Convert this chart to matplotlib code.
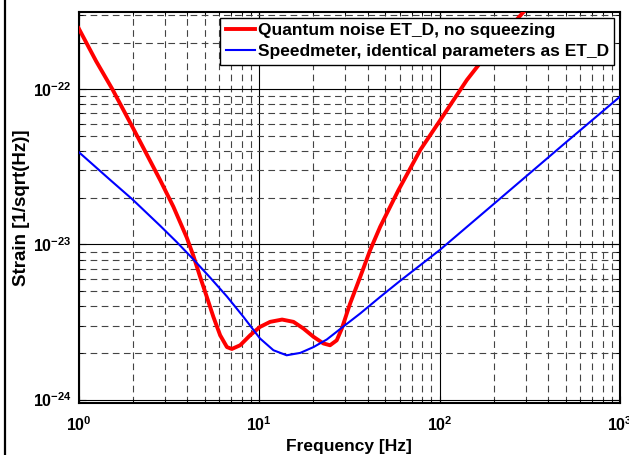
import math
import matplotlib
matplotlib.use("Agg")
import matplotlib.pyplot as plt
from matplotlib.ticker import FuncFormatter, LogLocator, NullFormatter
from matplotlib.lines import Line2D

plt.rcParams['font.family'] = ['Liberation Sans', 'DejaVu Sans']
plt.rcParams['font.weight'] = 'bold'
plt.rcParams['mathtext.fontset'] = 'custom'
plt.rcParams['mathtext.rm'] = 'Liberation Sans:bold'
plt.rcParams['mathtext.bf'] = 'Liberation Sans:bold'
plt.rcParams['mathtext.it'] = 'Liberation Sans:bold'

# Quantum noise ET_D, no squeezing
freq_et = [1.0, 1.25, 1.54, 2.0, 2.36, 2.83, 3.35, 3.97, 4.33, 4.71, 5.13, 5.58,
           6.08, 6.63, 7.06, 7.85, 8.92, 10.1, 11.5, 13.4, 15.5, 17.6, 20.0,
           22.7, 24.7, 26.9, 28.7, 31.9, 36.3, 41.2, 46.8, 59.1, 78.0, 100.7,
           141.5, 167.6, 235.5, 291.0, 350.0]
strain_et = [2.48e-22, 1.52e-22, 1.0e-22, 5.64e-23, 3.9e-23, 2.6e-23, 1.75e-23,
             1.11e-23, 8.4e-24, 6.18e-24, 4.59e-24, 3.41e-24, 2.6e-24, 2.18e-24,
             2.12e-24, 2.24e-24, 2.6e-24, 2.94e-24, 3.17e-24, 3.28e-24, 3.17e-24,
             2.87e-24, 2.54e-24, 2.3e-24, 2.24e-24, 2.41e-24, 2.87e-24, 4.16e-24,
             6.18e-24, 9.2e-24, 1.3e-23, 2.24e-23, 4.06e-23, 6.33e-23, 1.15e-22,
             1.48e-22, 2.39e-22, 3.15e-22, 3.98e-22]

# Speedmeter, identical parameters as ET_D
freq_sm = [1.0, 1.5, 1.99, 2.83, 3.5, 4.33, 5.35, 6.63, 8.19, 10.1,
           12.0, 14.2, 16.9, 20.0, 23.7, 29.3, 36.3, 46.8, 60.4, 100.0, 200.0,
           500.0, 1000.0]
strain_sm = [3.95e-23, 2.6e-23, 1.95e-23, 1.32e-23, 1.035e-23, 8.0e-24, 6.12e-24,
             4.62e-24, 3.41e-24, 2.48e-24, 2.08e-24, 1.93e-24,
             2.0e-24, 2.18e-24, 2.44e-24, 2.96e-24, 3.59e-24, 4.59e-24, 5.83e-24,
             9.2e-24, 1.83e-23, 4.55e-23, 9.0e-23]

labels = ['Quantum noise ET_D, no squeezing',
          'Speedmeter, identical parameters as ET_D']

fig = plt.figure(figsize=(6.29, 4.55), dpi=100)
ax = fig.add_axes([0.125, 0.115, 0.861, 0.859])
ax.set_xscale('log')
ax.set_yscale('log')
ax.set_xlim(1, 1000)
ax.set_ylim(10**-24.02, 10**-21.5)

ax.plot(freq_et, strain_et, color='#ff0000', lw=2.8, label=labels[0], zorder=3)
ax.plot(freq_sm, strain_sm, color='#0000ff', lw=1.5, label=labels[1], zorder=3)

ax.xaxis.set_major_locator(LogLocator(base=10, numticks=10))
ax.yaxis.set_major_locator(LogLocator(base=10, numticks=10))
ax.xaxis.set_minor_locator(LogLocator(base=10, subs=range(2, 10), numticks=20))
ax.yaxis.set_minor_locator(LogLocator(base=10, subs=range(2, 10), numticks=20))
ax.xaxis.set_minor_formatter(NullFormatter())
ax.yaxis.set_minor_formatter(NullFormatter())


def fmt(v, pos):
    e = int(round(math.log10(v)))
    return r'$\mathbf{10^{%d}}$' % e


ax.xaxis.set_major_formatter(FuncFormatter(fmt))
ax.yaxis.set_major_formatter(FuncFormatter(fmt))

ax.grid(True, which='major', color='black', lw=0.8, ls='-')
ax.grid(True, which='minor', color='#444444', lw=0.8, ls=(0, (6, 4)))

ax.tick_params(which='both', direction='in', top=True, right=True, labelsize=11.5)
ax.tick_params(which='major', length=5, width=0.8)
ax.tick_params(which='minor', length=3, width=0.6)
ax.tick_params(axis='x', which='major', pad=9)
ax.tick_params(axis='y', which='major', pad=5)
for s in ax.spines.values():
    s.set_linewidth(1.5)

ax.set_xlabel('Frequency [Hz]', fontsize=12.5, fontweight='bold')
ax.set_ylabel('Strain [1/sqrt(Hz)]', fontsize=13.5, fontweight='bold')
ax.xaxis.set_label_coords(0.5, -0.092)
ax.yaxis.set_label_coords(-0.09, 0.5)

leg = ax.legend(loc='upper right', fontsize=12.5, fancybox=False, framealpha=1,
                edgecolor='black', borderpad=0.3, labelspacing=0.35,
                handlelength=1.7, handletextpad=0.15, borderaxespad=0.35)
leg.get_frame().set_linewidth(1.0)
for t in leg.get_texts():
    t.set_fontweight('bold')

fig.add_artist(Line2D([4.5 / 629, 4.5 / 629], [0, 1], color='black', lw=1.6,
                      transform=fig.transFigure))

fig.savefig('out.png', dpi=100)
